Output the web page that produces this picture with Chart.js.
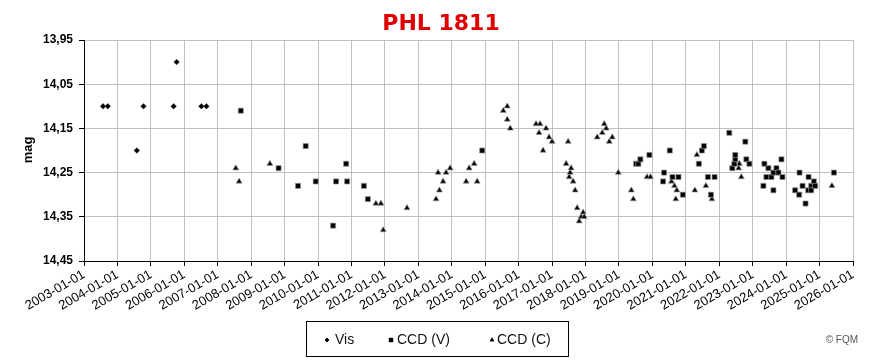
<!DOCTYPE html>
<html>
<head>
<meta charset="utf-8">
<script src="https://cdn.jsdelivr.net/npm/chart.js@4/dist/chart.umd.min.js"></script>
<style>
  html, body { margin: 0; padding: 0; background: #fff; }
  #wrap { width: 879px; height: 361px; }
</style>
</head>
<body>
<div id="wrap"><canvas id="lc" width="879" height="361"></canvas></div>
<script>
// PHL 1811 light curve — dates as decimal years, magnitudes

const visYears = [2003.57, 2003.71, 2004.58, 2004.78, 2005.68, 2005.77, 2006.51, 2006.66];
const visMags  = [14.10, 14.10, 14.20, 14.10, 14.10, 14.00, 14.10, 14.10];

const ccdVYears = [
  2007.69, 2008.82, 2009.40, 2009.63, 2009.93, 2010.45, 2010.54, 2010.84, 2010.87, 2011.37,
  2011.49, 2014.91, 2019.51, 2019.58, 2019.64, 2019.91, 2020.32, 2020.35, 2020.52, 2020.60,
  2020.78, 2020.91, 2021.39, 2021.48, 2021.54, 2021.66, 2021.75, 2021.86, 2022.30, 2022.39,
  2022.45, 2022.48, 2022.48, 2022.78, 2022.81, 2022.90, 2023.32, 2023.35, 2023.41, 2023.47,
  2023.56, 2023.62, 2023.62, 2023.71, 2023.77, 2023.86, 2023.89, 2024.27, 2024.39, 2024.40,
  2024.49, 2024.58, 2024.66, 2024.67, 2024.75, 2024.75, 2024.83, 2024.87, 2025.43
];
const ccdVMags = [
  14.11, 14.24, 14.28, 14.19, 14.27, 14.37, 14.27, 14.23, 14.27, 14.28,
  14.31, 14.20, 14.23, 14.23, 14.22, 14.21, 14.27, 14.25, 14.20, 14.26,
  14.26, 14.30, 14.23, 14.20, 14.19, 14.26, 14.30, 14.26, 14.16, 14.24,
  14.23, 14.22, 14.21, 14.18, 14.22, 14.23, 14.28, 14.23, 14.26, 14.24,
  14.26, 14.25, 14.29, 14.24, 14.25, 14.22, 14.26, 14.29, 14.30, 14.25,
  14.28, 14.32, 14.29, 14.26, 14.28, 14.29, 14.27, 14.28, 14.25
];

const ccdCYears = [
  2007.54, 2007.64, 2008.56, 2011.73, 2011.88, 2011.95, 2012.66, 2013.53, 2013.59, 2013.63,
  2013.74, 2013.83, 2013.95, 2014.43, 2014.52, 2014.67, 2014.76, 2015.54, 2015.66, 2015.66,
  2015.75, 2016.52, 2016.61, 2016.64, 2016.73, 2016.82, 2016.91, 2017.00, 2017.42, 2017.48,
  2017.51, 2017.54, 2017.57, 2017.63, 2017.69, 2017.75, 2017.81, 2017.87, 2017.93, 2017.96,
  2018.35, 2018.50, 2018.56, 2018.62, 2018.71, 2018.80, 2018.98, 2019.37, 2019.43, 2019.84,
  2019.94, 2020.57, 2020.66, 2020.70, 2020.73, 2021.27, 2021.33, 2021.60, 2021.78, 2022.58,
  2022.60, 2022.66, 2025.37
];
const ccdCMags = [
  14.24, 14.27, 14.23, 14.32, 14.32, 14.38, 14.33, 14.31, 14.25, 14.29,
  14.27, 14.25, 14.24, 14.27, 14.24, 14.23, 14.27, 14.11, 14.10, 14.13,
  14.15, 14.14, 14.16, 14.14, 14.20, 14.15, 14.17, 14.18, 14.23, 14.18,
  14.26, 14.25, 14.24, 14.27, 14.29, 14.33, 14.36, 14.35, 14.34, 14.35,
  14.17, 14.16, 14.14, 14.15, 14.18, 14.17, 14.25, 14.29, 14.31, 14.26,
  14.26, 14.27, 14.28, 14.31, 14.29, 14.29, 14.21, 14.28, 14.31, 14.24,
  14.23, 14.26, 14.28
];

const yearTicks = [2003, 2004, 2005, 2006, 2007, 2008, 2009, 2010, 2011, 2012, 2013, 2014,
                   2015, 2016, 2017, 2018, 2019, 2020, 2021, 2022, 2023, 2024, 2025, 2026];
const magTicks = [13.95, 14.05, 14.15, 14.25, 14.35, 14.45];

const pts = (xs, ys) => xs.map((x, i) => ({ x, y: ys[i] }));

// title, axis title, boxed legend, credit
const decor = {
  id: 'decor',
  beforeDraw(chart) {
    const c = chart.ctx;
    c.save();
    c.fillStyle = '#fff';
    c.fillRect(0, 0, chart.width, chart.height);
    c.restore();
  },
  afterDraw(chart) {
    const c = chart.ctx;
    c.save();
    c.fillStyle = '#e00000';
    c.font = 'bold 22px "DejaVu Sans"';
    c.textAlign = 'center';
    c.textBaseline = 'alphabetic';
    c.fillText('PHL 1811', 441, 30);

    c.fillStyle = '#000';
    c.font = 'bold 13px "Liberation Sans", Arial';
    c.translate(28, 150);
    c.rotate(-Math.PI / 2);
    c.textAlign = 'center';
    c.textBaseline = 'middle';
    c.fillText('mag', 0, 0);
    c.setTransform(1, 0, 0, 1, 0, 0);

    // legend box
    c.strokeStyle = '#000';
    c.lineWidth = 1;
    c.strokeRect(306.5, 321.5, 262, 35);
    const items = [
      { sym: 'rectRot', r: 2.2, x: 327, label: 'Vis', tx: 335 },
      { sym: 'rect', r: 3, x: 391, label: 'CCD (V)', tx: 397 },
      { sym: 'triangle', r: 2.6, x: 492, label: 'CCD (C)', tx: 497 }
    ];
    c.font = '14px "Liberation Sans", Arial';
    c.textAlign = 'left';
    c.textBaseline = 'middle';
    items.forEach(it => {
      c.fillStyle = '#000';
      Chart.helpers.drawPoint(c, { pointStyle: it.sym, radius: it.r, borderWidth: 0 }, it.x, 340);
      c.fill();
      c.fillStyle = '#111';
      c.fillText(it.label, it.tx, 340);
    });

    c.fillStyle = '#555';
    c.font = '10px "Liberation Sans", Arial';
    c.textAlign = 'right';
    c.fillText('\u00a9 FQM', 858, 340);
    c.restore();
  }
};

const markerBorder = 'rgba(150,150,150,0.7)';

new Chart(document.getElementById('lc'), {
  type: 'scatter',
  data: {
    datasets: [
      {
        label: 'Vis', data: pts(visYears, visMags),
        pointStyle: 'rectRot', pointRadius: 3,
        backgroundColor: '#000', borderColor: markerBorder, borderWidth: 0.5
      },
      {
        label: 'CCD (V)', data: pts(ccdVYears, ccdVMags),
        pointStyle: 'rect', pointRadius: 3.6,
        backgroundColor: '#000', borderColor: markerBorder, borderWidth: 1
      },
      {
        label: 'CCD (C)', data: pts(ccdCYears, ccdCMags),
        pointStyle: 'triangle', pointRadius: 3.4,
        backgroundColor: '#000', borderColor: markerBorder, borderWidth: 1
      }
    ]
  },
  options: {
    responsive: false,
    animation: false,
    events: [],
    layout: { padding: { top: 40, right: 26, left: 0, bottom: 0 } },
    plugins: {
      legend: { display: false },
      title: { display: false },
      tooltip: { enabled: false }
    },
    scales: {
      x: {
        type: 'linear',
        min: 2003, max: 2026,
        afterBuildTicks: s => { s.ticks = yearTicks.map(v => ({ value: v })); },
        afterFit: s => { s.height = 100; },
        grid: { color: '#c0c0c0', tickColor: '#000', tickLength: 5, lineWidth: 1 },
        border: { color: '#000', width: 1 },
        ticks: {
          autoSkip: false, minRotation: 30, maxRotation: 30, padding: 1,
          color: '#000',
          font: { family: '"Liberation Sans", Arial', size: 13 },
          callback: v => v + '-01-01'
        }
      },
      y: {
        reverse: true,
        min: 13.95, max: 14.45,
        afterBuildTicks: s => { s.ticks = magTicks.map(v => ({ value: v })); },
        afterFit: s => { s.width = 84; },
        grid: { color: '#c0c0c0', tickColor: '#000', tickLength: 5, lineWidth: 1 },
        border: { color: '#000', width: 1 },
        ticks: {
          padding: 6, color: '#000',
          font: { family: '"Liberation Sans", Arial', size: 12, weight: 'bold' },
          callback: v => v.toFixed(2).replace('.', ',')
        }
      }
    }
  },
  plugins: [decor]
});
</script>
</body>
</html>
